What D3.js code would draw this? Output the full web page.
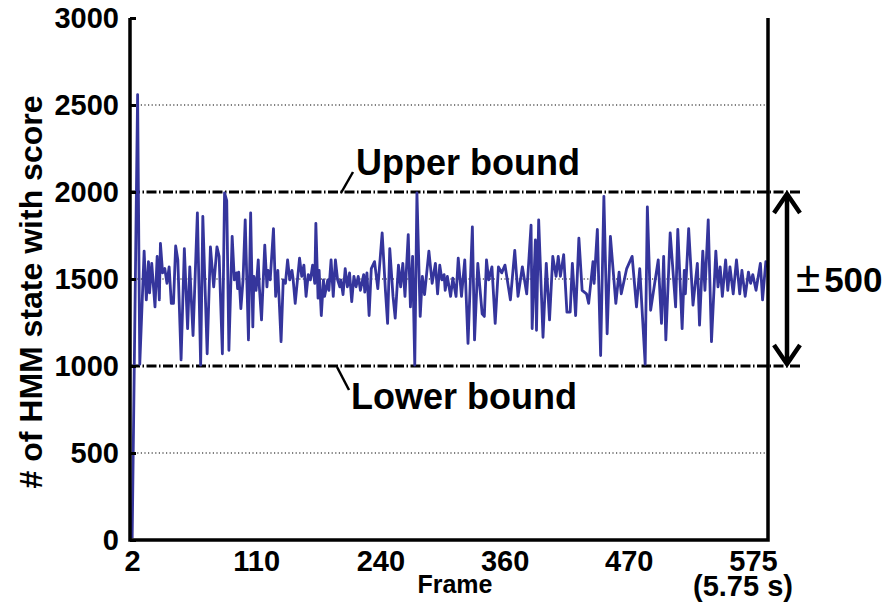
<!DOCTYPE html>
<html>
<head>
<meta charset="utf-8">
<script src="https://cdn.jsdelivr.net/npm/d3@7"></script>
<style>
  body { margin: 0; background: #fff; }
  text { font-family: "Liberation Sans", Arial, sans-serif; font-weight: bold; fill: #000; }
</style>
</head>
<body>
<div id="chart"></div>
<script>
// data (frame number, score)
var frames = [
  2,7,9,13,15,17,18,20,23,25, 27,28,30,32,34,36,38,40,42,44,
  47,50,53,55,58,62,65,67,71,74, 77,80,82,85,87,89,91,94,96,98,
  99,100,102,104,106,109,111,113,114,116, 118,119,121,124,126,127,129,132,134,136,
  139,141,143,145,147,149,150,152,156,158, 160,162,164,166,168,170,171,173,174,176,
  178,179,182,183,185,187,189,191,193,194, 196,198,200,202,204,206,208,210,212,215,
  216,218,220,222,225,228,232,235,237,239, 242,244,247,249,251,253,256,258,260,262,
  264,267,269,271,275,278,281,283,285,287, 289,290,292,295,297,300,302,305,308,311,
  315,317,320,324,326,328,330,333,336,339, 342,345,350,354,357,361,365,369,370,373,
  374,376,380,383,386,389,392,394,396,399, 402,405,407,410,413,416,420,422,426,427,
  430,433,436,439,442,447,450,452,457,462, 466,469,474,476,479,486,489,491,493,497,
  502,504,508,510,511,514,518,522,524,527, 529,532,535,539,541,543,545,548,550,552,
  555,558,561,563,566,569,571,573,576,580, 582,585,587
];
var scores = [
  10,2560,1010,1660,1380,1600,1420,1590,1340,1630, 1380,1705,1535,1560,1475,1570,1360,1360,1690,1610,
  1035,1675,1215,1570,1175,1880,1005,1860,1070,1685, 1455,1685,1630,1070,1995,1950,1090,1745,1495,1535,
  1445,1540,1330,1495,1840,1150,1880,1225,1515,1435, 1610,1455,1265,1695,1455,1550,1495,1790,1400,1550,
  1140,1495,1475,1610,1495,1550,1505,1360,1620,1515, 1580,1400,1525,1495,1580,1475,1820,1390,1550,1290,
  1495,1400,1495,1435,1610,1400,1610,1495,1455,1495, 1410,1560,1455,1535,1370,1515,1455,1515,1435,1525,
  1425,1535,1290,1560,1600,1445,1765,1435,1245,1675, 1400,1275,1580,1455,1590,1400,1755,1340,1630,1005,
  1995,1285,1515,1410,1660,1475,1590,1415,1580,1495, 1525,1435,1515,1400,1505,1400,1620,1400,1610,1130,
  1800,1150,1590,1300,1285,1610,1495,1570,1245,1570, 1535,1580,1380,1665,1400,1570,1415,1810,1215,1725,
  1205,1840,1165,1590,1265,1630,1515,1630,1515,1640, 1310,1310,1590,1290,1735,1435,1415,1360,1600,1475,
  1785,1060,1975,1185,1745,1360,1540,1415,1560,1630, 1340,1560,1010,1915,1320,1610,1245,1630,1150,1765,
  1340,1785,1215,1550,1415,1790,1350,1590,1235,1660, 1435,1840,1140,1660,1455,1570,1400,1610,1435,1570,
  1415,1610,1415,1550,1400,1540,1475,1525,1435,1590, 1380,1600,1570
];
var yTicks = [0, 500, 1000, 1500, 2000, 2500, 3000];
var xTickLabels = ["2", "110", "240", "360", "470", "575"];
var bounds = [1000, 2000];        // lower / upper bound
var dottedLines = [500, 1500, 2500];
var boundRange = 500;

var width = 893, height = 606;
var pLeft = 130, pRight = 768, pTop = 18, pBottom = 540;

var svg = d3.select("#chart").append("svg")
    .attr("width", width).attr("height", height);

var x = d3.scaleLinear().domain([0, 587]).range([pLeft, pRight]);
var y = d3.scaleLinear().domain([0, 3000]).range([pBottom, pTop]);
var xLab = d3.scalePoint().domain(xTickLabels).range([132, 753]);

// dotted grid lines
svg.append("g").selectAll("line").data(dottedLines).enter().append("line")
    .attr("x1", pLeft).attr("x2", pRight)
    .attr("y1", function(d){ return y(d); }).attr("y2", function(d){ return y(d); })
    .attr("stroke", "#000").attr("stroke-width", 1.2)
    .attr("stroke-dasharray", "1.2,2.4");

// bound lines (dash dot)
svg.append("g").selectAll("line").data(bounds).enter().append("line")
    .attr("x1", pLeft).attr("x2", 802)
    .attr("y1", function(d){ return y(d); }).attr("y2", function(d){ return y(d); })
    .attr("stroke", "#000").attr("stroke-width", 3)
    .attr("stroke-dasharray", "10,2.5,1.5,2.5");

// data line
var pts = frames.map(function(f, i){ return [f, scores[i]]; });
var line = d3.line().x(function(d){ return x(d[0]); }).y(function(d){ return y(d[1]); });
svg.append("path").datum(pts)
    .attr("d", line)
    .attr("fill", "none")
    .attr("stroke", "#35359c")
    .attr("stroke-width", 2.8)
    .attr("stroke-linejoin", "round");

// y axis
var yAxis = svg.append("g").attr("transform", "translate(" + pLeft + ",0)")
    .call(d3.axisLeft(y).tickValues(yTicks).tickFormat(d3.format("d")).tickSize(-6).tickPadding(11));
yAxis.select(".domain").remove();
yAxis.selectAll(".tick line").attr("stroke", "#000").attr("stroke-width", 3);
yAxis.selectAll(".tick text").attr("font-size", 29).attr("font-family", null);

// x axis labels
var xAxis = svg.append("g").attr("transform", "translate(0," + pBottom + ")")
    .call(d3.axisBottom(xLab).tickSize(0).tickPadding(10));
xAxis.select(".domain").remove();
xAxis.selectAll(".tick text").attr("font-size", 29).attr("font-family", null);

// frame (axes box: left, bottom, right)
svg.append("path")
    .attr("d", "M" + pLeft + "," + pTop + "V" + pBottom + "H" + pRight + "V" + pTop)
    .attr("fill", "none").attr("stroke", "#000").attr("stroke-width", 3.5);

// axis titles
svg.append("text").attr("x", 455).attr("y", 593)
    .attr("text-anchor", "middle").attr("font-size", 25).text("Frame");
svg.append("text").attr("x", 743).attr("y", 596)
    .attr("text-anchor", "middle").attr("font-size", 29).text("(5.75 s)");
svg.append("text")
    .attr("transform", "translate(42," + ((pTop + pBottom) / 2 + 13) + ") rotate(-90)")
    .attr("text-anchor", "middle").attr("font-size", 32).text("# of HMM state with score");

// bound annotations
svg.append("line").attr("x1", 341).attr("y1", y(bounds[1]) + 1).attr("x2", 353).attr("y2", y(bounds[1]) - 20)
    .attr("stroke", "#000").attr("stroke-width", 2.5);
svg.append("text").attr("x", 356).attr("y", 175).attr("font-size", 36).text("Upper bound");
svg.append("line").attr("x1", 337).attr("y1", y(bounds[0]) + 1).attr("x2", 349).attr("y2", y(bounds[0]) + 24)
    .attr("stroke", "#000").attr("stroke-width", 2.5);
svg.append("text").attr("x", 351).attr("y", 409).attr("font-size", 36).text("Lower bound");

// +/- range arrow
var ax = 787;
svg.append("line").attr("x1", ax).attr("x2", ax)
    .attr("y1", y(bounds[1]) + 3).attr("y2", y(bounds[0]) - 3)
    .attr("stroke", "#000").attr("stroke-width", 4.5);
svg.append("path")
    .attr("d", "M" + (ax - 13) + "," + (y(bounds[1]) + 21) + "L" + ax + "," + (y(bounds[1]) + 2) + "L" + (ax + 13) + "," + (y(bounds[1]) + 21) +
               "M" + (ax - 13) + "," + (y(bounds[0]) - 21) + "L" + ax + "," + (y(bounds[0]) - 2) + "L" + (ax + 13) + "," + (y(bounds[0]) - 21))
    .attr("fill", "none").attr("stroke", "#000").attr("stroke-width", 4.5);
var pm = svg.append("text").attr("x", 796).attr("y", y(1500) + 13);
pm.append("tspan").attr("font-size", 44).attr("font-weight", "normal").text("\u00b1");
pm.append("tspan").attr("dx", 4).attr("font-size", 35).text(boundRange);
</script>
</body>
</html>
